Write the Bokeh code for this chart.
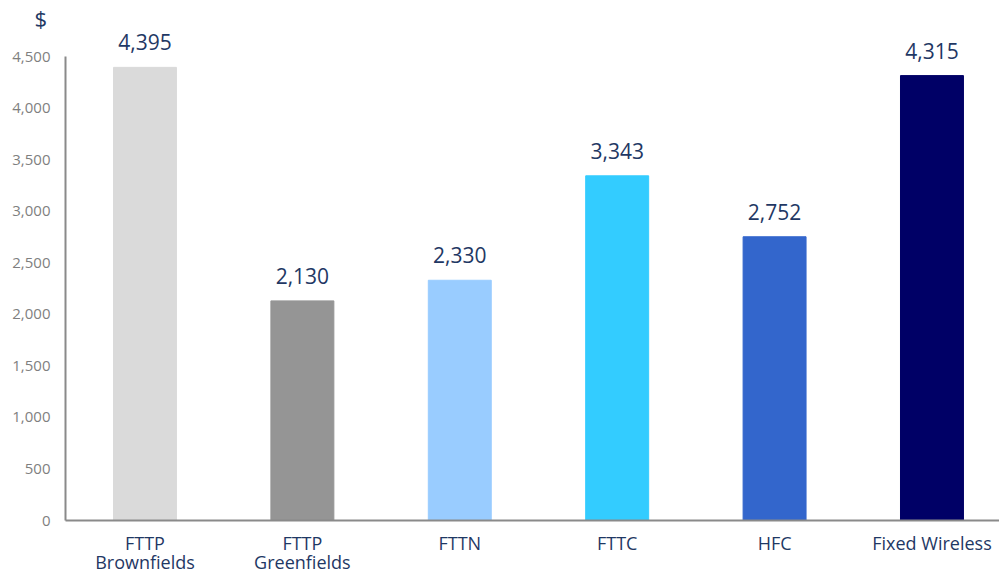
from bokeh.plotting import figure
from bokeh.models import ColumnDataSource, Range1d, LabelSet, FixedTicker, NumeralTickFormatter
from bokeh.core.properties import value
from bokeh.embed import file_html
from bokeh.resources import INLINE

categories = ["FTTP\nBrownfields", "FTTP\nGreenfields", "FTTN", "FTTC", "HFC", "Fixed Wireless"]
values = [4395, 2130, 2330, 3343, 2752, 4315]
colors = ["#dadada", "#959595", "#99ccff", "#33ccff", "#3366cc", "#000066"]
y_ticks = [0, 500, 1000, 1500, 2000, 2500, 3000, 3500, 4000, 4500]
unit_label = "$"

FONT = "Open Sans"
xs = list(range(len(categories)))
src = ColumnDataSource(dict(x=xs, v=values, c=colors,
                            lab=[f"{v:,}" for v in values]))

p = figure(frame_width=934, frame_height=488, output_backend="svg", toolbar_location=None,
           x_range=Range1d(-0.505, 5.429), y_range=Range1d(0, 4733),
           min_border_left=65, min_border_right=0, min_border_top=0, min_border_bottom=30,
           title=unit_label)
p.outline_line_color = None
p.grid.visible = False
p.background_fill_color = "white"
p.border_fill_color = "white"

p.title.text_font = FONT
p.title.text_font_size = "22px"
p.title.text_font_style = "normal"
p.title.text_color = "#1f3864"
p.title.align = "left"
p.title.offset = -31
p.title.standoff = 0

p.vbar(x="x", top="v", width=0.40, color="c", source=src)

labels = LabelSet(x="x", y="v", text="lab", source=src, y_offset=17,
                  text_align="center", text_baseline="bottom",
                  text_font=value(FONT), text_font_size="21px", text_color="#1f3864")
p.add_layout(labels)

xa = p.xaxis[0]
xa.ticker = FixedTicker(ticks=xs)
xa.major_label_overrides = {i: c for i, c in zip(xs, categories)}
xa.major_tick_line_color = None
xa.minor_tick_line_color = None
xa.axis_line_color = "#8a8a8a"
xa.axis_line_width = 2
xa.major_label_text_font = FONT
xa.major_label_text_font_size = "18px"
xa.major_label_text_color = "#1f3864"
xa.major_label_text_line_height = 0.8
xa.major_label_standoff = 4

ya = p.yaxis[0]
ya.ticker = FixedTicker(ticks=y_ticks)
ya.bounds = (0, 4500)
ya.formatter = NumeralTickFormatter(format="0,0")
ya.major_tick_line_color = None
ya.minor_tick_line_color = None
ya.axis_line_color = "#8a8a8a"
ya.axis_line_width = 2
ya.major_label_text_font = FONT
ya.major_label_text_font_size = "15px"
ya.major_label_text_color = "#7f7f7f"
ya.major_label_standoff = 9

open("out.html", "w").write(file_html(p, INLINE))
